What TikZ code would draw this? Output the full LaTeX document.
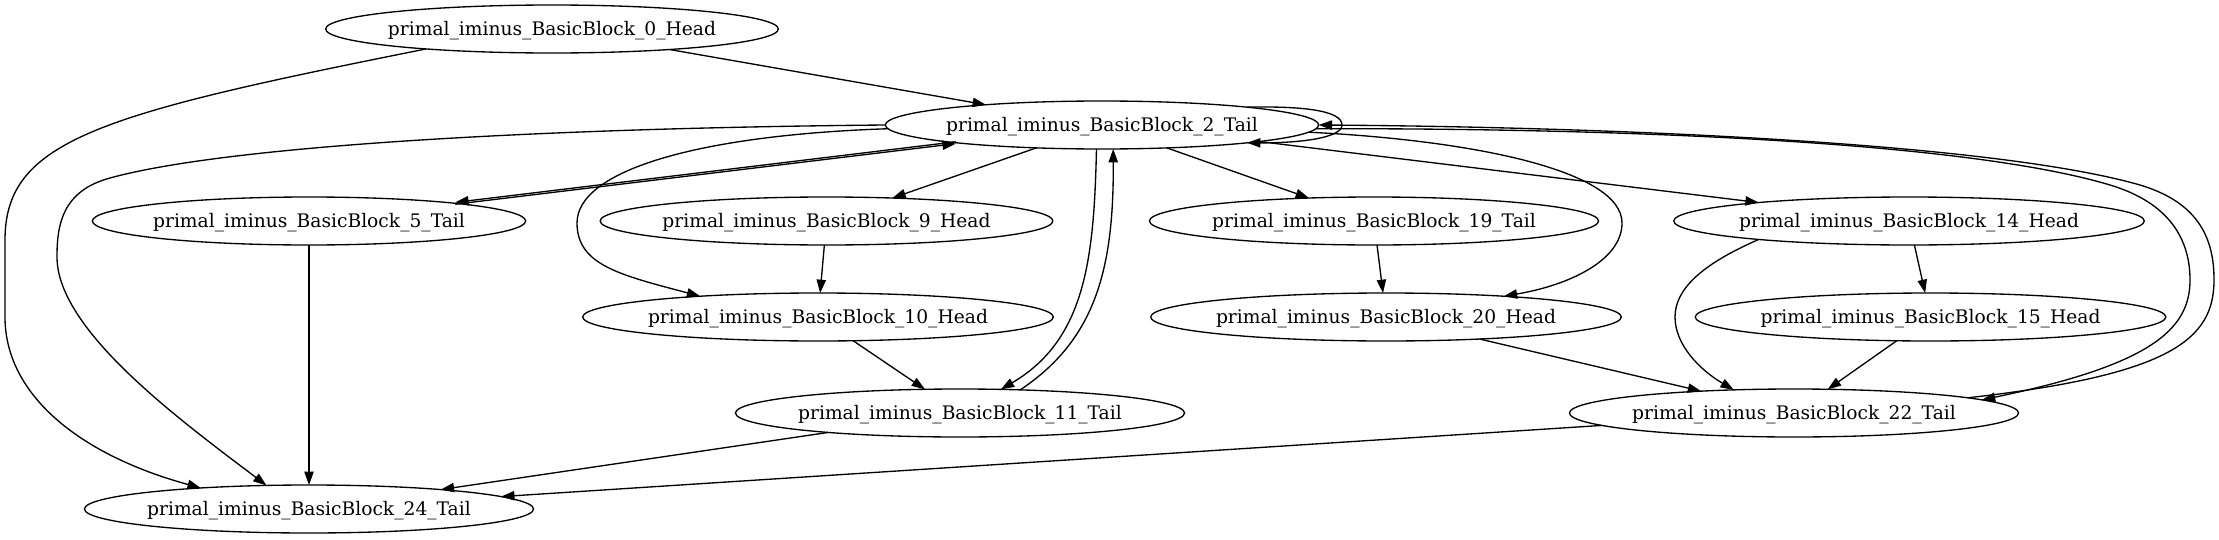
\documentclass[tikz,border=0pt]{standalone}
\usepackage{fontspec}
\setmainfont{DejaVu Serif}
\usetikzlibrary{arrows.meta,shapes.geometric}
\tikzset{
  nd/.style={draw, ellipse, line width=1pt, inner sep=0pt, outer sep=0pt,
    minimum height=36pt, text height=9.2pt, text depth=0pt,
    font=\fontsize{14pt}{16pt}\selectfont},
  tl/.style={nd, minimum width=325pt},
  hd/.style={nd, minimum width=339.5pt},
  tlb/.style={nd, minimum width=336.8pt},
  hdb/.style={nd, minimum width=352.9pt},
  e/.style={draw, line width=1pt, -{Triangle[length=10pt,width=7pt]}}
}
\newcommand{\lbl}[1]{\makebox[0pt]{primal\_iminus\_BasicBlock\_#1}}
\begin{document}
\begin{tikzpicture}[x=0.75pt,y=-0.75pt]
\useasboundingbox (0,0) rectangle (2219,539);
% nodes
\node[hd]  (n0)  at (552,29)    {\lbl{0\_Head}};
\node[tl]  (n2)  at (1102,125)  {\lbl{2\_Tail}};
\node[tl]  (n5)  at (309,221)   {\lbl{5\_Tail}};
\node[hd]  (n9)  at (826.5,221) {\lbl{9\_Head}};
\node[tlb] (n19) at (1374,221)  {\lbl{19\_Tail}};
\node[hdb] (n14) at (1909,221)  {\lbl{14\_Head}};
\node[hdb] (n10) at (818,317)   {\lbl{10\_Head}};
\node[hdb] (n20) at (1386,317)  {\lbl{20\_Head}};
\node[hdb] (n15) at (1930.5,317){\lbl{15\_Head}};
\node[tlb] (n11) at (960,413)   {\lbl{11\_Tail}};
\node[tlb] (n22) at (1794,413)  {\lbl{22\_Tail}};
\node[tlb] (n24) at (309,509)   {\lbl{24\_Tail}};
% edges
\draw[e] (n0) -- (n2);
\draw[e] (n0.189) .. controls (100,114) and (5,140) .. (5,240) -- (5,317)
  .. controls (5,395) and (80,455) .. (n24.169);
\draw[e] (n2.180) .. controls (550,128) and (230,145) .. (110,178)
  .. controls (62,191) and (57,225) .. (57,257)
  .. controls (57,330) and (180,420) .. (n24.151);
\draw[e] (n2.181) .. controls (700,135) and (577,170) .. (577,223)
  .. controls (577,265) and (620,275) .. (n10.170);
\draw[e, transform canvas={yshift=0.7pt}] (n2) -- (n5);
\draw[e, transform canvas={yshift=-0.7pt}] (n5) -- (n2);
\draw[e] (n2) -- (n9);
\draw[e] (n9) -- (n10);
\draw[e] (n10) -- (n11);
\draw[e] (n2.257) .. controls (1094,260) and (1085,340) .. (n11.30);
\draw[e] (n11.21) .. controls (1095,340) and (1114,270) .. (n2.295);
\draw[e] (n2.7) .. controls (1300,106) and (1342,110) .. (1342,125)
  .. controls (1342,138) and (1300,143) .. (n2.353);
\draw[e] (n2) -- (n19);
\draw[e] (n19) -- (n20);
\draw[e] (n2.358) .. controls (1470,140) and (1622,170) .. (1622,223)
  .. controls (1622,260) and (1570,285) .. (n20.10);
\draw[e] (n2.354) -- (n14.173);
\draw[e] (n2.359) .. controls (1600,128) and (1960,140) .. (2110,185)
  .. controls (2170,203) and (2190,240) .. (2190,280)
  .. controls (2190,330) and (2150,365) .. (n22.4);
\draw[e] (n22.5) .. controls (2170,375) and (2214,340) .. (2214,280)
  .. controls (2214,240) and (2200,203) .. (2140,185)
  .. controls (1990,142) and (1600,127) .. (n2.0);
\draw[e] (n14.187) .. controls (1700,265) and (1675,290) .. (1675,317)
  .. controls (1675,345) and (1700,370) .. (n22.159);
\draw[e] (n14) -- (n15);
\draw[e] (n15) -- (n22);
\draw[e] (n20) -- (n22);
\draw[e] (n22) -- (n24);
\draw[e] (n11) -- (n24);
\draw[e] (n5) -- (n24);
\end{tikzpicture}
\end{document}
